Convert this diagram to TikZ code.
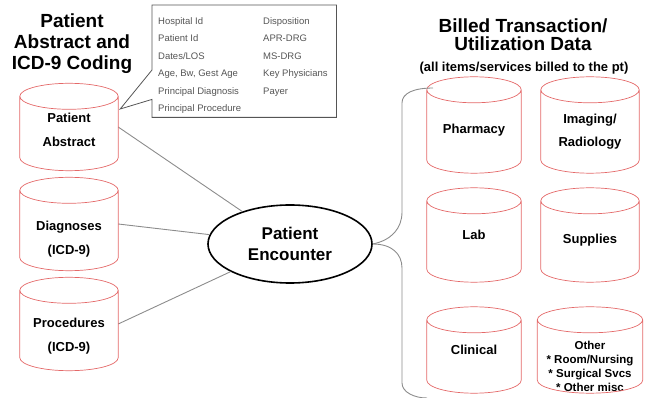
\documentclass[tikz,border=0pt]{standalone}
\usepackage{fontspec}
\setmainfont{Liberation Sans}
\usepackage{xcolor}
\definecolor{dbred}{RGB}{228,105,105}
\definecolor{linkgray}{RGB}{140,140,140}
\definecolor{notegray}{RGB}{85,85,85}
\usepackage{tikz}
\usetikzlibrary{shapes.geometric, calc}
% outline of a data store drawn round a named node
\newcommand{\dbcap}{13pt}
\newcommand{\dbcyl}[1]{%
	\draw[draw=dbred, line width=0.7pt] let \p1=(#1.west), \p2=(#1.east), \n1={(\x2-\x1)/2} in
		([yshift=-\dbcap]#1.north) ellipse[x radius=\n1, y radius=\dbcap]
		([yshift=-\dbcap]#1.north west) -- ([yshift=\dbcap]#1.south west)
		arc[start angle=180, end angle=360, x radius=\n1, y radius=\dbcap]
		-- ([yshift=-\dbcap]#1.north east);}

\begin{document}
\begin{tikzpicture}[x=1pt, y=-1pt,
	db/.style={rectangle, minimum width=98pt, minimum height=90pt, inner sep=0pt},
	dbtext/.style={align=center, inner sep=0pt, font=\bfseries\fontsize{13}{24}\selectfont},
	title/.style={align=center, inner sep=0pt, font=\bfseries\fontsize{19}{21}\selectfont},
	note/.style={align=left, anchor=north west, inner sep=0pt, text=notegray,
	             font=\fontsize{9.5}{17.5}\selectfont},
	link/.style={draw=linkgray, line width=0.9pt},
	enc/.style={ellipse, draw=black, line width=1.6pt, minimum width=164pt, minimum height=78pt,
	            align=center, inner sep=0pt, font=\bfseries\fontsize{17}{21}\selectfont}
	]
\useasboundingbox (0,0) rectangle (649,398);

% left side: abstract and coding
\node[title] (lt) at (72,44) {Patient\\ Abstract and\\ ICD-9 Coding};
\node[db, minimum height=87pt] (pa) at (69,127) {};
\node[db, minimum height=93pt] (dx) at (69,224) {};
\node[db, minimum height=93pt] (px) at (69,324) {};
\node[dbtext] (pat) at ([yshift=-3pt]pa.center) {Patient\\ Abstract};
\node[dbtext] (dxt) at ([yshift=-15pt]dx.center) {Diagnoses\\ (ICD-9)};
\node[dbtext] (pxt) at ([yshift=-12pt]px.center) {Procedures\\ (ICD-9)};

% abstract fields
\node[minimum width=184pt, minimum height=112pt, anchor=north west, inner sep=0pt] (info) at (152,5) {};
\node[note] (fa) at (158,17) {Hospital Id\\ Patient Id\\ Dates/LOS\\ Age, Bw, Gest Age\\ Principal Diagnosis\\ Principal Procedure};
\node[note] (fb) at (263,17) {Disposition\\ APR-DRG\\ MS-DRG\\ Key Physicians\\ Payer};
\coordinate (tip) at ([xshift=2pt,yshift=18pt]pa.east);
\draw[draw=notegray, line width=0.8pt] (info.north west) -- ++(0,65) -- (tip) -- ([yshift=18pt]info.south west)
	-- (info.south west) -- (info.south east) -- (info.north east) -- cycle;

% encounter
\node[enc] (pe) at (290,244) {Patient\\ Encounter};
\draw[link] (pa.east) -- (pe);
\draw[link] (dx.east) -- (pe);
\draw[link] (px.east) -- (pe);

% right side: billed data
\node[title, font=\bfseries\fontsize{19}{18}\selectfont] (rt) at (523,35) {Billed Transaction/\\ Utilization Data};
\node[inner sep=0pt, font=\bfseries\fontsize{13}{15}\selectfont] (sub) at (524,68) {(all items/services billed to the pt)};
\node[db, minimum width=94pt, minimum height=96pt] (ph) at (474,125) {};
\node[db, minimum height=96pt] (im) at (590,125) {};
\node[db, minimum width=94pt, minimum height=94pt] (lab) at (474,235) {};
\node[db, minimum height=94pt] (sup) at (590,235) {};
\node[db, minimum width=94pt, minimum height=86pt] (cl) at (474,350) {};
\node[db, minimum width=105pt, minimum height=86pt] (oth) at (590,350) {};
\node[dbtext] (pht) at ([yshift=-5pt]ph.center) {Pharmacy};
\node[dbtext, font=\bfseries\fontsize{13}{23}\selectfont] (imt) at ([yshift=-7pt]im.center) {Imaging/\\ Radiology};
\node[dbtext] (labt) at (lab.center) {Lab};
\node[dbtext] (supt) at ([yshift=-5pt]sup.center) {Supplies};
\node[dbtext] (clt) at (cl.center) {Clinical};
\node[dbtext, font=\bfseries\fontsize{11.5}{14}\selectfont] (otht) at ([yshift=-16pt]oth.center)
	{Other\\ * Room/Nursing\\ * Surgical Svcs\\ * Other misc};

\foreach \c in {pa,dx,px,ph,im,lab,sup,cl,oth}
	\dbcyl{\c};

\coordinate (bt) at (433,88);
\coordinate (bb) at (427,398);
\draw[link] (pe.east) .. controls (392,240) and (402,228) .. (402,212) -- (402,103)
	.. controls (402,93) and (414,88) .. (bt);
\draw[link] (pe.east) .. controls (392,244) and (402,254) .. (402,268) -- (402,383)
	.. controls (402,392) and (414,398) .. (bb);
\end{tikzpicture}
\end{document}
